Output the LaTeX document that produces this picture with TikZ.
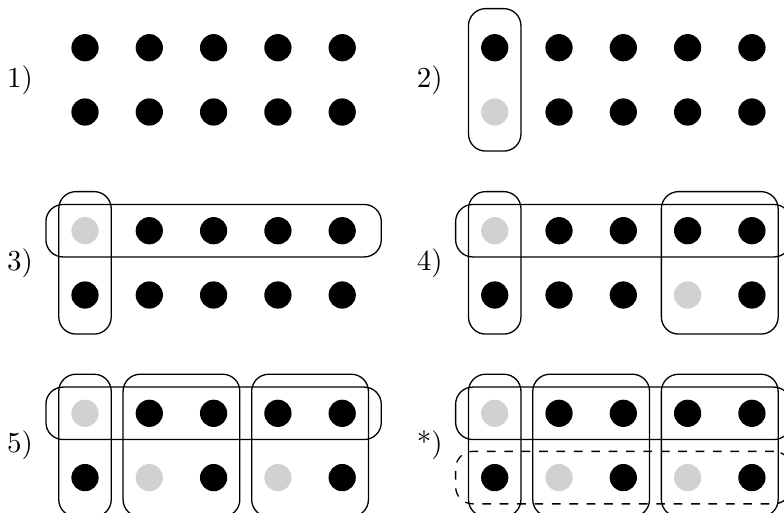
\documentclass[tikz,border=0pt]{standalone}
\usetikzlibrary{fit}
\definecolor{dotgray}{gray}{0.82}
\tikzset{
  dot/.style={circle, fill=black, inner sep=0pt, minimum size=9.4pt},
  grp/.style={draw, rounded corners=5.9pt, line width=0.45pt, inner sep=0pt},
  vgrp/.style={grp, inner xsep=4.15pt, inner ysep=8.58pt},
  hgrp/.style={grp, inner xsep=8.58pt, inner ysep=4.15pt},
  lbl/.style={inner sep=0pt},
  gp2-0-1/.style={fill=dotgray},
  gp3-0-0/.style={fill=dotgray},
  gp4-0-0/.style={fill=dotgray},
  gp4-3-1/.style={fill=dotgray},
  gp5-0-0/.style={fill=dotgray},
  gp5-1-1/.style={fill=dotgray},
  gp5-3-1/.style={fill=dotgray},
  gp6-0-0/.style={fill=dotgray},
  gp6-1-1/.style={fill=dotgray},
  gp6-3-1/.style={fill=dotgray},
}
\newcommand\dotpanel[2]{%
  \node[lbl] (#1-lbl) at (-1.01,0.5) {#2};
  \foreach \i in {0,...,4} \foreach \j in {0,1} {%
    \node[dot, g#1-\i-\j/.try] (#1-\i-\j) at (\i,\j) {};}%
}
\begin{document}
\begin{tikzpicture}[x=22.18pt, y=-22.18pt]
\useasboundingbox (0,0) rectangle (12.193,7.978);
\clip (0,0) rectangle (12.193,7.978);

\begin{scope}[shift={(1.322,0.742)}]
  \dotpanel{p1}{1)}
\end{scope}

\begin{scope}[shift={(7.694,0.742)}]
  \dotpanel{p2}{2)}
  \node[vgrp, fit=(p2-0-0)(p2-0-1)] (p2-a) {};
\end{scope}

\begin{scope}[shift={(1.322,3.588)}]
  \dotpanel{p3}{3)}
  \node[vgrp, fit=(p3-0-0)(p3-0-1)] (p3-a) {};
  \node[hgrp, fit=(p3-0-0)(p3-4-0)] (p3-b) {};
\end{scope}

\begin{scope}[shift={(7.694,3.588)}]
  \dotpanel{p4}{4)}
  \node[vgrp, fit=(p4-0-0)(p4-0-1)] (p4-a) {};
  \node[hgrp, fit=(p4-0-0)(p4-4-0)] (p4-b) {};
  \node[vgrp, fit=(p4-3-0)(p4-4-1)] (p4-c) {};
\end{scope}

\begin{scope}[shift={(1.322,6.428)}]
  \dotpanel{p5}{5)}
  \node[vgrp, fit=(p5-0-0)(p5-0-1)] (p5-a) {};
  \node[vgrp, fit=(p5-1-0)(p5-2-1)] (p5-b) {};
  \node[vgrp, fit=(p5-3-0)(p5-4-1)] (p5-c) {};
  \node[hgrp, fit=(p5-0-0)(p5-4-0)] (p5-d) {};
\end{scope}

\begin{scope}[shift={(7.694,6.428)}]
  \dotpanel{p6}{*)}
  \node[vgrp, fit=(p6-0-0)(p6-0-1)] (p6-a) {};
  \node[vgrp, fit=(p6-1-0)(p6-2-1)] (p6-b) {};
  \node[vgrp, fit=(p6-3-0)(p6-4-1)] (p6-c) {};
  \node[hgrp, fit=(p6-0-0)(p6-4-0)] (p6-d) {};
  \node[hgrp, dashed, fit=(p6-0-1)(p6-4-1)] (p6-e) {};
\end{scope}
\end{tikzpicture}
\end{document}
